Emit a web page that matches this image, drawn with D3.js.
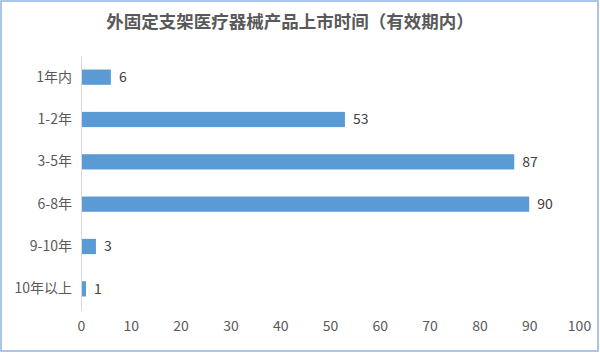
<!DOCTYPE html>
<html><head><meta charset="utf-8">
<script src="https://cdn.jsdelivr.net/npm/d3@7"></script>
<style>body{margin:0;background:#fff}svg{display:block}text{font-family:"Noto Sans CJK SC","Noto Sans",sans-serif}</style>
</head><body><svg id="c" width="600" height="353"></svg>
<script>
const title = "外固定支架医疗器械产品上市时间（有效期内）";
const categories = ["1年内","1-2年","3-5年","6-8年","9-10年","10年以上"];
const values = [6,53,87,90,3,1];
const xTicks = [0,10,20,30,40,50,60,70,80,90,100];

const svg = d3.select("#c");
svg.append("rect").attr("x",1).attr("y",1).attr("width",597).attr("height",350)
  .attr("fill","#fff").attr("stroke","#8eb4e3").attr("stroke-width",1.5);

const m = {left:81, right:21, top:56, bottom:43};
const W = 600, H = 353;
const x = d3.scaleLinear().domain([0,100]).range([m.left, W-m.right]);
const y = d3.scaleBand().domain(categories).range([m.top, H-m.bottom]).paddingInner(0.64).paddingOuter(0.32);

svg.append("text").attr("x",290).attr("y",28).attr("text-anchor","middle")
  .attr("font-size",17.5).attr("font-weight","bold").attr("fill","#595959").text(title);

svg.selectAll("rect.bar").data(values).join("rect").attr("class","bar")
  .attr("x",x(0)).attr("y",(d,i)=>y(categories[i]))
  .attr("width",d=>x(d)-x(0)).attr("height",y.bandwidth()).attr("fill","#5b9bd5");

svg.selectAll("text.val").data(values).join("text").attr("class","val")
  .attr("x",d=>x(d)+8).attr("y",(d,i)=>y(categories[i])+y.bandwidth()/2)
  .attr("dy","0.35em").attr("font-size",14).attr("fill","#404040").text(d=>d);

// y axis
const ya = svg.append("g").attr("transform",`translate(${x(0)},0)`)
  .call(d3.axisLeft(y).tickSize(0).tickPadding(9));
ya.select(".domain").attr("stroke","#d9d9d9");
ya.selectAll("text").attr("font-size",14).attr("fill","#595959")
  .style("font-family",'"Noto Sans CJK SC","Noto Sans",sans-serif');

// x axis labels (no line)
const xa = svg.append("g").attr("transform",`translate(0,${H-m.bottom})`)
  .call(d3.axisBottom(x).tickValues(xTicks).tickSize(0).tickPadding(11));
xa.select(".domain").remove();
xa.selectAll("text").attr("font-size",14).attr("fill","#595959")
  .style("font-family",'"Noto Sans CJK SC","Noto Sans",sans-serif');
</script></body></html>
